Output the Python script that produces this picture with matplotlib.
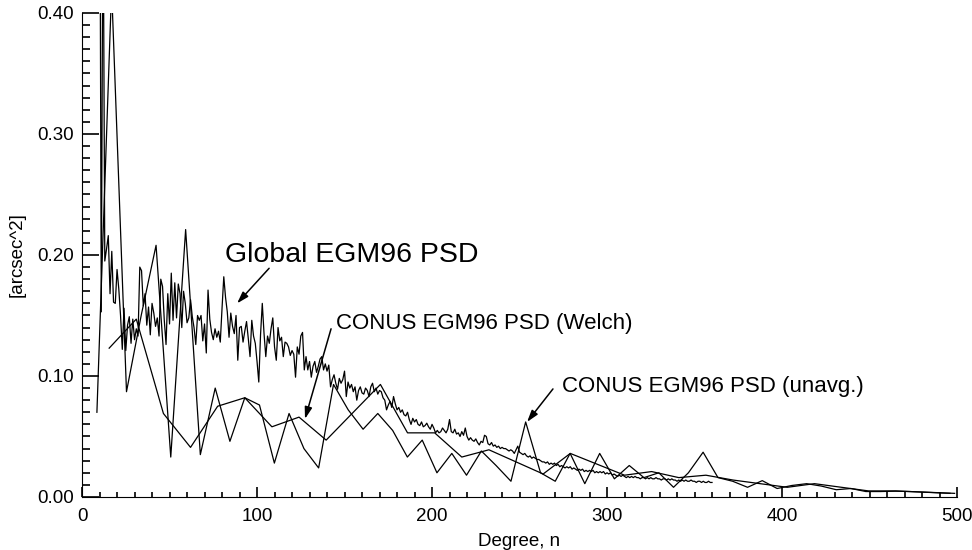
import matplotlib
matplotlib.use("Agg")
from matplotlib import pyplot as plt
from matplotlib.ticker import MultipleLocator, FormatStrFormatter

plt.rcParams["font.family"] = ["Liberation Sans", "DejaVu Sans"]

# Global EGM96 PSD, one value per degree (n = 2 .. 360)
global_deg = list(range(2, 361))
global_psd = [
    1.90, 2.60, 1.40, 1.10, 1.60, 0.95, 0.80, 0.70, 0.62,
    0.153, 0.520, 0.195, 0.205, 0.216, 0.168, 0.203, 0.161, 0.160, 0.188,
    0.172, 0.150, 0.122, 0.156, 0.121, 0.142, 0.149, 0.127, 0.147, 0.130,
    0.139, 0.133, 0.190, 0.187, 0.158, 0.168, 0.142, 0.157, 0.134, 0.160,
    0.152, 0.141, 0.148, 0.133, 0.180, 0.174, 0.146, 0.126, 0.168, 0.143,
    0.185, 0.146, 0.177, 0.148, 0.176, 0.168, 0.140, 0.170, 0.160, 0.144,
    0.148, 0.163, 0.149, 0.140, 0.126, 0.150, 0.146, 0.150, 0.129, 0.143,
    0.119, 0.171, 0.147, 0.136, 0.130, 0.139, 0.132, 0.137, 0.128, 0.156,
    0.182, 0.165, 0.153, 0.132, 0.152, 0.141, 0.135, 0.150, 0.113, 0.140,
    0.141, 0.128, 0.137, 0.145, 0.131, 0.116, 0.146, 0.133, 0.127, 0.112,
    0.095, 0.134, 0.160, 0.135, 0.116, 0.133, 0.127, 0.139, 0.148, 0.124,
    0.113, 0.140, 0.129, 0.132, 0.116, 0.128, 0.127, 0.124, 0.117, 0.121,
    0.118, 0.099, 0.124, 0.118, 0.133, 0.136, 0.105, 0.116, 0.105, 0.112,
    0.099, 0.108, 0.112, 0.103, 0.108, 0.114, 0.116, 0.105, 0.110, 0.104,
    0.109, 0.091, 0.097, 0.101, 0.094, 0.089, 0.098, 0.094, 0.097, 0.104,
    0.083, 0.095, 0.090, 0.093, 0.087, 0.091, 0.080, 0.088, 0.091, 0.086,
    0.085, 0.090, 0.088, 0.083, 0.091, 0.094, 0.087, 0.090, 0.085, 0.088,
    0.087, 0.082, 0.080, 0.072, 0.076, 0.079, 0.074, 0.083, 0.077, 0.072,
    0.074, 0.070, 0.072, 0.068, 0.067, 0.070, 0.064, 0.060, 0.065, 0.062,
    0.064, 0.060, 0.059, 0.062, 0.058, 0.059, 0.061, 0.058, 0.056, 0.060,
    0.057, 0.053, 0.055, 0.053, 0.054, 0.057, 0.055, 0.053, 0.056, 0.064,
    0.054, 0.053, 0.056, 0.052, 0.053, 0.050, 0.054, 0.051, 0.057, 0.050,
    0.047, 0.049, 0.047, 0.046, 0.048, 0.045, 0.043, 0.046, 0.045, 0.051,
    0.050, 0.044, 0.043, 0.045, 0.042, 0.043, 0.041, 0.042, 0.040, 0.041,
    0.040, 0.040, 0.039, 0.038, 0.039, 0.038, 0.036, 0.039, 0.042, 0.037,
    0.036, 0.035, 0.036, 0.034, 0.033, 0.034, 0.032, 0.033, 0.032, 0.031,
    0.031, 0.030, 0.029, 0.029, 0.028, 0.029, 0.027, 0.028, 0.027, 0.028,
    0.026, 0.027, 0.025, 0.026, 0.025, 0.024, 0.025, 0.024, 0.025, 0.023,
    0.024, 0.023, 0.022, 0.023, 0.022, 0.023, 0.021, 0.022, 0.021, 0.022,
    0.021, 0.022, 0.020, 0.021, 0.020, 0.021, 0.020, 0.021, 0.019, 0.020,
    0.019, 0.020, 0.018, 0.019, 0.018, 0.017, 0.018, 0.017, 0.018, 0.017,
    0.016, 0.017, 0.016, 0.017, 0.016, 0.017, 0.016, 0.016, 0.015, 0.016,
    0.016, 0.015, 0.016, 0.015, 0.016, 0.015, 0.015, 0.016, 0.015, 0.015,
    0.014, 0.015, 0.015, 0.014, 0.015, 0.014, 0.015, 0.014, 0.014, 0.013,
    0.014, 0.013, 0.014, 0.013, 0.014, 0.013, 0.013, 0.014, 0.013, 0.013,
    0.012, 0.013, 0.013, 0.012, 0.013, 0.012, 0.012, 0.013, 0.012, 0.012,
]

# CONUS EGM96 PSD, Welch averaged
welch_deg = [
    15.5, 31.0, 46.5, 62.0, 77.5, 93.0, 108.5, 124.0, 139.5, 155.0,
    170.5, 186.0, 201.5, 217.0, 232.5, 248.0, 263.5, 279.0, 294.5, 310.0,
    325.5, 341.0, 356.5, 372.0, 387.5, 403.0, 418.5, 434.0, 449.5, 465.0,
    480.5, 496.0,
]
welch_psd = [
    0.123, 0.147, 0.069, 0.041, 0.075, 0.082, 0.058, 0.066, 0.047, 0.070,
    0.093, 0.053, 0.053, 0.033, 0.039, 0.029, 0.019, 0.036, 0.027, 0.018,
    0.021, 0.016, 0.018, 0.014, 0.011, 0.008, 0.011, 0.008, 0.005, 0.005,
    0.004, 0.003,
]

# CONUS EGM96 PSD, unaveraged
unavg_deg = [
    8.5, 16.9, 25.4, 33.8, 42.3, 50.7, 59.2, 67.6, 76.1, 84.5,
    93.0, 101.4, 109.9, 118.3, 126.8, 135.2, 143.7, 152.1, 160.6, 169.0,
    177.5, 185.9, 194.4, 202.8, 211.3, 219.7, 228.2, 236.6, 245.1, 253.5,
    262.0, 270.4, 278.9, 287.3, 295.8, 304.2, 312.7, 321.1, 329.6, 338.0,
    346.5, 354.9, 363.4, 371.8, 380.3, 388.7, 397.2, 405.6, 414.1, 422.5,
    431.0, 439.4, 447.9, 456.3, 464.8, 473.2, 481.7, 490.1, 498.6,
]
unavg_psd = [
    0.070, 0.420, 0.087, 0.150, 0.208, 0.033, 0.221, 0.035, 0.090, 0.046,
    0.082, 0.076, 0.028, 0.069, 0.040, 0.024, 0.093, 0.072, 0.056, 0.069,
    0.055, 0.033, 0.047, 0.020, 0.036, 0.018, 0.038, 0.026, 0.013, 0.062,
    0.020, 0.013, 0.036, 0.011, 0.036, 0.015, 0.026, 0.016, 0.020, 0.008,
    0.020, 0.037, 0.016, 0.013, 0.008, 0.0135, 0.007, 0.0095, 0.011, 0.009,
    0.006, 0.007, 0.0045, 0.0045, 0.0048, 0.0045, 0.004, 0.0035, 0.003,
]

fig = plt.figure(figsize=(9.72, 5.5), dpi=100)
ax = fig.add_axes([0.0844, 0.0964, 0.9002, 0.88])

lw = 0.9
ax.plot(global_deg, global_psd, color="black", lw=lw)
ax.plot(welch_deg, welch_psd, color="black", lw=lw)
ax.plot(unavg_deg, unavg_psd, color="black", lw=lw)

ax.set_xlim(0, 500)
ax.set_ylim(0, 0.40)

# IDL-like axes: only left and bottom, ticks pointing inward
ax.spines["top"].set_visible(False)
ax.spines["right"].set_visible(False)
ax.xaxis.set_major_locator(MultipleLocator(100))
ax.xaxis.set_minor_locator(MultipleLocator(10))
ax.yaxis.set_major_locator(MultipleLocator(0.10))
ax.yaxis.set_minor_locator(MultipleLocator(0.01))
ax.yaxis.set_major_formatter(FormatStrFormatter("%.2f"))

ax.set_xlabel("Degree, n", fontsize=13.5, labelpad=6)
ax.set_ylabel("[arcsec^2]", fontsize=13.5, labelpad=8)

ax.tick_params(axis="y", which="major", direction="in", length=12.2,
               width=1.2, color="black", pad=6, labelsize=13.5,
               left=True, right=False)
ax.tick_params(axis="y", which="minor", direction="in", length=6,
               width=1.2, color="black", left=True, right=False)
ax.tick_params(axis="x", which="major", direction="in", length=7,
               width=1.2, color="black", pad=8, labelsize=13.5,
               bottom=True, top=False)
ax.tick_params(axis="x", which="minor", direction="in", length=3.6,
               width=1.2, color="black", bottom=True, top=False)

# labels with arrows
arrow = dict(arrowstyle="-|>,head_length=0.7,head_width=0.22", color="black",
             lw=1.1, shrinkA=0, shrinkB=0)
ax.text(81.7, 0.200, "Global EGM96 PSD", fontsize=20.5, ha="left", va="center")
ax.annotate("", xy=(88.6, 0.160), xytext=(106.9, 0.189), arrowprops=arrow)
ax.text(145.1, 0.143, "CONUS EGM96 PSD (Welch)", fontsize=16, ha="left",
        va="center")
ax.annotate("", xy=(127.4, 0.0645), xytext=(142.3, 0.139), arrowprops=arrow)
ax.text(274.3, 0.0912, "CONUS EGM96 PSD (unavg.)", fontsize=16, ha="left",
        va="center")
ax.annotate("", xy=(254.3, 0.062), xytext=(269.1, 0.0893), arrowprops=arrow)

fig.savefig("out.png", dpi=100)
